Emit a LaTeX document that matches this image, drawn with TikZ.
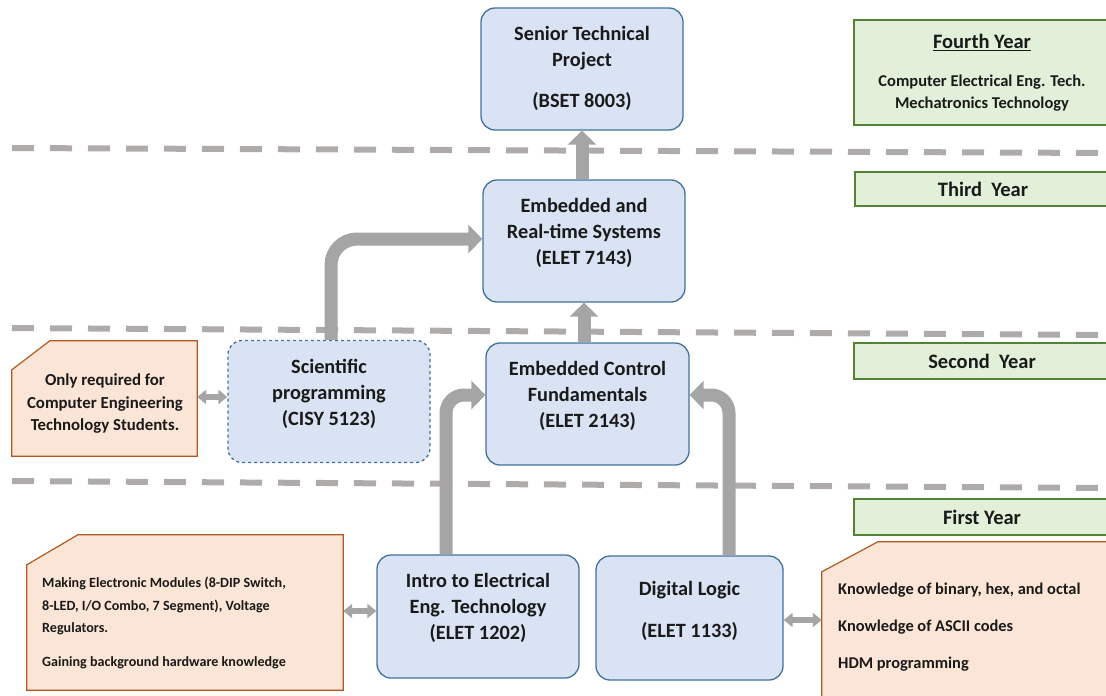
\documentclass[tikz,border=0pt]{standalone}
\usepackage{fontspec}
\setmainfont{Carlito}
\usetikzlibrary{arrows.meta,calc}
\definecolor{boxfill}{HTML}{DAE3F3}
\definecolor{boxline}{HTML}{41719C}
\definecolor{notefill}{HTML}{FBE5D6}
\definecolor{noteline}{HTML}{AE5A21}
\definecolor{yearfill}{HTML}{E2F0D9}
\definecolor{yearline}{HTML}{548235}
\definecolor{arrowgray}{HTML}{A5A5A5}
\definecolor{dashgray}{HTML}{AFABAB}
\definecolor{txt}{HTML}{1A1A1A}
\begin{document}
\begin{tikzpicture}[x=1pt,y=-1pt,
  course/.style={draw=boxline, fill=boxfill, line width=1.3pt, rounded corners=14pt, inner sep=0pt, minimum width=202pt, minimum height=122pt},
  ctext/.style={font=\fontsize{20.3}{26}\selectfont\bfseries, align=center, text=txt, inner sep=0pt},
  notebox/.style={inner sep=0pt},
  notepoly/.style={draw=noteline, fill=notefill, line width=1.2pt},
  ntext/.style={font=\fontsize{16.8}{22.5}\selectfont\bfseries, text=txt, inner sep=0pt},
  yearbox/.style={draw=yearline, fill=yearfill, line width=1.1pt, inner sep=0pt, minimum width=256pt, align=center, text=txt, font=\fontsize{20.5}{22}\selectfont\bfseries},
  subline/.style={},
  divider/.style={draw=dashgray, line width=6pt, dash pattern=on 22pt off 16pt},
  blockarrow/.style={draw=arrowgray, line width=13pt, -{Triangle[width=28pt,length=14pt]}},
  twoway/.style={draw=arrowgray, line width=5.5pt, {Triangle[width=14pt,length=9pt]}-{Triangle[width=14pt,length=9pt]}}
]
\useasboundingbox (0,0) rectangle (1106,696);
\clip (0,0) rectangle (1106,696);

% year dividers
\draw[divider] (12,148) -- (1106,153);
\draw[divider] (12,328) -- (1106,335);
\draw[divider] (12,481) -- (1106,488);

% year labels
\node[yearbox, minimum height=105pt] (y4) at (982,72.5) {\underline{Fourth Year}\\[16pt]{\fontsize{16.5}{22}\selectfont Computer Electrical Eng. Tech.}\\{\fontsize{16.5}{22}\selectfont Mechatronics Technology}};
\node[yearbox, minimum height=34pt] (y3) at (983,189) {Third\ \ Year};
\node[yearbox, minimum height=36pt] (y2) at (982,361) {Second\ \ Year};
\node[yearbox, minimum height=36pt] (y1) at (982,517) {First Year};

% course boxes
\node[course] (senior) at (582,69) {};
\node[course] (ert) at (584,241) {};
\node[course, dashed] (sci) at (329,401.5) {};
\node[course, minimum width=203pt] (ecf) at (587.5,404) {};
\node[course, minimum height=123pt] (intro) at (478,616.5) {};
\node[course, minimum width=187pt, minimum height=124pt] (dl) at (689.5,618) {};

\node[ctext] (seniorT) at (582,68) {Senior Technical\\Project\\[15pt](BSET 8003)};
\node[ctext] (ertT) at (584,233) {Embedded and\\Real-time Systems\\(ELET 7143)};
\node[ctext] (sciT) at (329,393.5) {Scientific\\programming\\(CISY 5123)};
\node[ctext] (ecfT) at (587.5,395.5) {Embedded Control\\Fundamentals\\(ELET 2143)};
\node[ctext] (introT) at (478,608) {Intro to Electrical\\Eng. Technology\\(ELET 1202)};
\node[ctext] (dlT) at (689.5,611) {Digital Logic\\[16pt](ELET 1133)};

% notes
\node[notebox, minimum width=185pt, minimum height=115pt] (note1) at (104.5,398.5) {};
\draw[notepoly] (note1.south west) -- ($(note1.north west)+(0,29)$) -- ($(note1.north west)+(38,0)$) -- (note1.north east) -- (note1.south east) -- cycle;
\node[ntext, align=center] (note1T) at (105,404) {Only required for\\Computer Engineering\\Technology Students.};

\node[notebox, minimum width=316pt, minimum height=155pt] (note2) at (185,612.5) {};
\draw[notepoly] (note2.south west) -- ($(note2.north west)+(0,30)$) -- ($(note2.north west)+(51,0)$) -- (note2.north east) -- (note2.south east) -- cycle;
\node[ntext, align=left, anchor=west, font=\fontsize{14.1}{22.5}\selectfont\bfseries] (note2T) at (42,623) {Making Electronic Modules (8-DIP Switch,\\8-LED, I/O Combo, 7 Segment), Voltage\\Regulators.\\[11.5pt]Gaining background hardware knowledge};

\node[notebox, minimum width=288pt, minimum height=158pt] (note3) at (966,621) {};
\draw[notepoly] (note3.south west) -- ($(note3.north west)+(0,30)$) -- ($(note3.north west)+(56,0)$) -- (note3.north east) -- (note3.south east) -- cycle;
\node[ntext, align=left, anchor=west, font=\fontsize{16.4}{22.5}\selectfont\bfseries] (note3T) at (838,627) {Knowledge of binary, hex, and octal\\[14.5pt]Knowledge of ASCII codes\\[14.5pt]HDM programming};

% block arrows
\draw[blockarrow] (ert.north -| senior.south) -- (senior.south);
\draw[blockarrow] (ert.south |- ecf.north) -- (ert.south);
\coordinate (sciIn) at ([yshift=2pt]ert.west);
\draw[blockarrow, rounded corners=26pt] ([xshift=2pt]sci.north) |- (sciIn);
\coordinate (ecfL) at ([yshift=9pt]ecf.west);
\coordinate (ecfR) at ([yshift=9pt]ecf.east);
\draw[blockarrow, rounded corners=18pt] ([xshift=-32pt]intro.north) |- (ecfL);
\draw[blockarrow, rounded corners=18pt] ([xshift=39.5pt]dl.north) |- (ecfR);

% two-way arrows
\coordinate (t1) at ([yshift=1.5pt]note1.east);
\draw[twoway] (t1) -- (t1 -| sci.west);
\coordinate (t2) at ([yshift=1.5pt]note2.east);
\draw[twoway] (t2) -- (t2 -| intro.west);
\coordinate (t3) at ([yshift=-2pt]dl.east);
\draw[twoway] (t3) -- (t3 -| note3.west);
\end{tikzpicture}
\end{document}
